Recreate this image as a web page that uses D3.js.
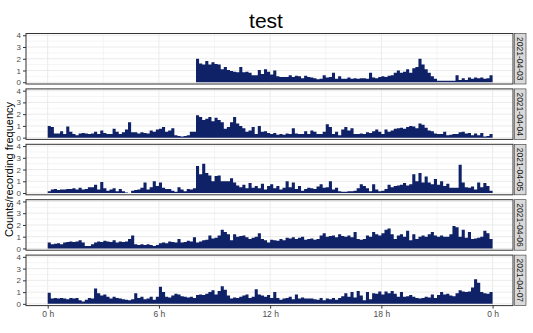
<!DOCTYPE html>
<html><head><meta charset="utf-8">
<script src="https://cdn.jsdelivr.net/npm/d3@7"></script>
<style>body{margin:0;background:#fff}svg{display:block;font-family:"Liberation Sans",Arial,sans-serif}</style>
</head><body>
<script>
const dates = ["2021-04-03","2021-04-04","2021-04-05","2021-04-06","2021-04-07"];
const xTickHours = [0,6,12,18,24];
const xTickLabels = ["0 h","6 h","12 h","18 h","0 h"];
const yTicks = [0,1,2,3,4];
// 10-minute bins, 6 per hour, 24 hours
const day0403 = [
0,0,0,0,0,0, 0,0,0,0,0,0, 0,0,0,0,0,0, 0,0,0,0,0,0,
0,0,0,0,0,0, 0,0,0,0,0,0, 0,0,0,0,0,0, 0,0,0,0,0,0,
2.0,1.6,1.5,1.8,1.5,1.7, 1.55,1.5,1.1,1.3,1.05,0.95, 0.9,0.85,1.3,0.85,0.9,0.8, 0.6,0.6,1.05,0.7,1.1,0.9,
0.65,1.0,0.5,0.45,0.45,0.45, 0.6,0.45,0.55,0.5,0.35,0.55, 0.45,0.4,0.35,0.25,0.3,0.6, 0.4,0.45,0.8,0.3,0.5,0.3,
0.3,0.4,0.3,0.35,0.3,0.35, 0.35,0.3,0.8,0.4,0.35,0.45, 0.5,0.45,0.55,0.6,0.8,1.0, 0.8,0.9,1.1,0.8,1.2,1.3,
2.0,1.5,1.1,0.8,0.5,0.3, 0.12,0.12,0.12,0.12,0.12,0.12, 0.6,0.2,0.35,0.2,0.4,0.3, 0.4,0.35,0.4,0.3,0.35,0.6];
const day0404 = [
1.0,0.9,0.35,0.35,0.55,0.3, 0.95,0.5,0.3,0.2,0.35,0.4, 0.35,0.3,0.35,0.5,0.3,0.6, 0.4,0.3,0.3,0.75,0.5,0.3,
0.45,0.7,1.3,0.45,0.45,0.35, 0.45,0.4,0.35,0.6,0.5,0.7, 0.75,0.9,0.5,0.6,0.8,0.2, 0.15,0.1,0.15,0.2,0.5,0.5,
1.9,1.75,1.5,1.6,1.75,1.4, 1.7,1.5,1.3,0.75,0.9,1.3, 1.75,1.2,1.0,0.8,0.5,0.6, 0.9,0.3,1.0,0.5,0.55,0.4,
0.3,0.4,0.25,0.3,0.25,0.35, 0.3,0.8,0.35,0.3,0.3,0.55, 0.3,0.6,0.5,0.3,0.3,0.5, 1.15,0.9,0.3,0.5,0.2,0.7,
0.9,0.6,0.8,0.3,0.3,0.35, 0.3,0.45,0.4,0.55,0.7,0.5, 0.3,0.7,0.5,0.6,0.75,0.8, 0.85,0.75,0.9,1.0,0.95,0.8,
1.2,1.1,0.85,0.6,0.55,0.35, 0.3,0.3,0.5,0.2,0.25,0.3, 0.3,0.45,0.5,0.35,0.4,0.2, 0.35,0.2,0.4,0.1,0.15,0.3];
const day0405 = [
0.15,0.3,0.35,0.25,0.3,0.3, 0.35,0.35,0.4,0.3,0.45,0.3, 0.35,0.5,0.5,0.7,0.3,0.95, 0.4,0.2,0.3,0.4,0.15,0.35,
0.15,0.05,0,0.2,0.25,0.3, 0.45,0.9,0.3,0.5,1.0,0.6, 0.9,0.45,0.35,0.35,0.2,0.1, 0.5,0.3,0.15,0.35,0.3,0.4,
2.3,1.6,2.5,1.7,1.5,1.0, 1.45,1.5,1.0,1.0,1.0,1.25, 0.9,0.65,0.5,0.7,0.4,0.85, 0.45,0.6,0.4,0.8,0.3,0.6,
0.75,0.4,0.6,0.3,0.45,1.0, 0.5,0.9,0.35,0.6,0.2,0.35, 0.45,0.4,0.35,0.55,0.75,0.45, 0.5,1.0,0.3,0.45,0.15,0.1,
0.1,0.15,0.15,0.2,0.4,0.75, 0.6,0.4,0.15,0.75,0.3,0.15, 0.2,0.35,0.7,0.5,0.6,0.65, 0.7,0.85,0.65,0.75,1.6,1.0,
1.7,0.9,1.4,0.9,0.75,1.2, 0.7,1.0,0.6,0.8,0.45,0.45, 0.45,2.4,0.9,0.5,0.45,0.55, 0.3,0.9,0.5,0.85,0.6,0.2];
const day0406 = [
0.5,0.35,0.4,0.45,0.35,0.5, 0.55,0.6,0.55,0.6,0.7,0.5, 0.2,0.2,0.35,0.5,0.6,0.55, 0.65,0.6,0.55,0.7,0.5,0.6,
0.55,0.6,0.8,1.1,0.35,0.3, 0.35,0.3,0.35,0.3,0.2,0.3, 0.45,0.5,0.45,0.6,0.55,0.5, 0.8,0.5,0.55,0.65,0.6,0.95,
0.5,0.6,0.7,0.75,1.1,0.85, 0.9,1.1,1.6,1.4,1.2,0.7, 1.2,1.0,1.05,1.1,0.95,0.8, 0.9,1.0,1.3,0.8,0.7,0.5,
0.75,0.7,0.65,0.8,0.7,0.9, 0.85,0.95,0.8,0.9,1.0,0.75, 0.8,0.85,0.75,0.8,1.1,1.3, 1.0,1.05,1.1,0.95,1.2,1.05,
1.0,1.1,0.95,1.4,0.8,0.75, 0.8,1.1,1.0,1.4,1.2,1.1, 1.3,1.6,1.7,1.2,0.8,1.1, 1.2,1.0,1.5,0.7,1.2,0.8,
1.0,1.1,1.0,1.2,1.4,1.1, 1.0,1.1,1.0,1.0,1.2,1.9, 1.8,1.0,1.6,0.9,1.4,0.8, 0.85,0.9,1.0,1.5,1.3,0.8];
const day0407 = [
0.95,0.45,0.5,0.45,0.5,0.45, 0.4,0.5,0.45,0.5,0.3,0.2, 0.35,0.5,0.45,1.3,0.9,0.7, 0.8,0.6,0.45,0.6,0.5,0.45,
0.4,0.35,0.3,0.4,0.9,0.5, 0.6,0.4,0.45,0.6,0.35,0.6, 1.45,1.0,0.6,0.55,0.7,0.85, 0.8,0.65,0.6,0.55,0.6,0.5,
0.75,0.8,0.75,0.85,1.0,1.15, 0.8,1.1,1.5,1.2,0.7,0.45, 0.55,0.5,0.6,0.7,0.8,0.5, 0.6,1.25,0.8,0.7,0.6,0.75,
0.5,1.0,0.5,0.35,0.45,0.5, 0.6,0.4,0.8,0.45,0.55,0.45, 0.45,0.45,0.4,0.35,0.5,0.3, 0.45,0.4,0.5,0.35,0.5,0.65,
0.9,0.6,1.0,0.55,1.1,0.7, 0.3,1.0,0.4,0.9,0.85,1.05, 0.8,1.05,0.9,1.1,0.85,0.6, 1.0,0.6,0.65,0.75,0.6,0.5,
0.45,0.5,0.6,0.55,0.8,0.5, 0.75,1.0,0.8,0.85,0.7,0.65, 0.9,1.15,1.05,1.0,1.05,1.4, 2.1,1.8,1.0,0.9,0.85,1.0];
const series = [day0403, day0404, day0405, day0406, day0407];

const W = 533, H = 333;
const panelL = 26, panelR = 513, stripL = 514.5, stripR = 526;
const top0 = 33.5, panelH = 50.5, step = 55.4;
const fillCol = "#0f2167";

const svg = d3.select("body").append("svg").attr("width", W).attr("height", H);
svg.append("rect").attr("width", W).attr("height", H).attr("fill", "#fff");

const x = d3.scaleLinear().domain([0, 24]).range([47.7, 492.6]);

svg.append("text").attr("x", 266).attr("y", 28).attr("text-anchor", "middle")
  .attr("font-size", 21).attr("fill", "#000").text("test");

svg.append("text").attr("transform", `translate(10,${top0 + (4*step + panelH)/2}) rotate(-90)`)
  .attr("text-anchor", "middle").attr("dominant-baseline", "middle")
  .attr("font-size", 11).attr("fill", "#000").text("Counts/recording frequency");

const defs = svg.append("defs");

series.forEach((vals, i) => {
  const top = top0 + i*step, bottom = top + panelH;
  const y = d3.scaleLinear().domain([-0.15, 4.15]).range([bottom, top]);
  const g = svg.append("g");
  const clipId = "clip" + i;
  defs.append("clipPath").attr("id", clipId).append("rect")
    .attr("x", panelL).attr("y", top).attr("width", panelR - panelL).attr("height", panelH);
  const pg = g.append("g").attr("clip-path", `url(#${clipId})`);
  // minor grid
  [0.5,1.5,2.5,3.5].forEach(v => pg.append("line").attr("x1", panelL).attr("x2", panelR)
     .attr("y1", y(v)).attr("y2", y(v)).attr("stroke", "#ebebeb").attr("stroke-width", 0.5));
  [3,9,15,21].forEach(h => pg.append("line").attr("y1", top).attr("y2", bottom)
     .attr("x1", x(h)).attr("x2", x(h)).attr("stroke", "#ebebeb").attr("stroke-width", 0.5));
  // major grid
  yTicks.forEach(v => pg.append("line").attr("x1", panelL).attr("x2", panelR)
     .attr("y1", y(v)).attr("y2", y(v)).attr("stroke", "#ebebeb").attr("stroke-width", 1));
  xTickHours.forEach(h => pg.append("line").attr("y1", top).attr("y2", bottom)
     .attr("x1", x(h)).attr("x2", x(h)).attr("stroke", "#ebebeb").attr("stroke-width", 1));
  // data
  const pts = vals.map((v, k) => ({t: k/6, v}));
  pts.push({t: 24, v: vals[vals.length-1]});
  const area = d3.area().x(d => x(d.t)).y0(y(0)).y1(d => y(d.v)).curve(d3.curveStepAfter);
  pg.append("path").datum(pts).attr("d", area).attr("fill", fillCol);
  // border
  g.append("rect").attr("x", panelL).attr("y", top).attr("width", panelR - panelL).attr("height", panelH)
    .attr("fill", "none").attr("stroke", "#333").attr("stroke-width", 1);
  // y axis
  const ya = g.append("g").attr("transform", `translate(${panelL},0)`)
    .call(d3.axisLeft(y).tickValues(yTicks).tickSize(3).tickPadding(2).tickFormat(d3.format("d")));
  ya.select(".domain").remove();
  ya.selectAll("line").attr("stroke", "#333");
  ya.selectAll("text").attr("fill", "#4d4d4d").attr("font-size", 8).attr("font-family", null);
  // strip
  g.append("rect").attr("x", stripL).attr("y", top).attr("width", stripR - stripL).attr("height", panelH)
    .attr("fill", "#d9d9d9").attr("stroke", "#333").attr("stroke-width", 0.6);
  g.append("text").attr("transform", `translate(${(stripL+stripR)/2},${top + panelH/2}) rotate(90)`)
    .attr("text-anchor", "middle").attr("dominant-baseline", "central")
    .attr("font-size", 8.5).attr("fill", "#1a1a1a").text(dates[i]);
  if (i === series.length - 1) {
    const xa = g.append("g").attr("transform", `translate(0,${bottom})`)
      .call(d3.axisBottom(x).tickValues(xTickHours).tickSize(3).tickPadding(2)
        .tickFormat((d, j) => xTickLabels[j]));
    xa.select(".domain").remove();
    xa.selectAll("line").attr("stroke", "#333");
    xa.selectAll("text").attr("fill", "#4d4d4d").attr("font-size", 8.5).attr("font-family", null);
  }
});
</script>
</body></html>
